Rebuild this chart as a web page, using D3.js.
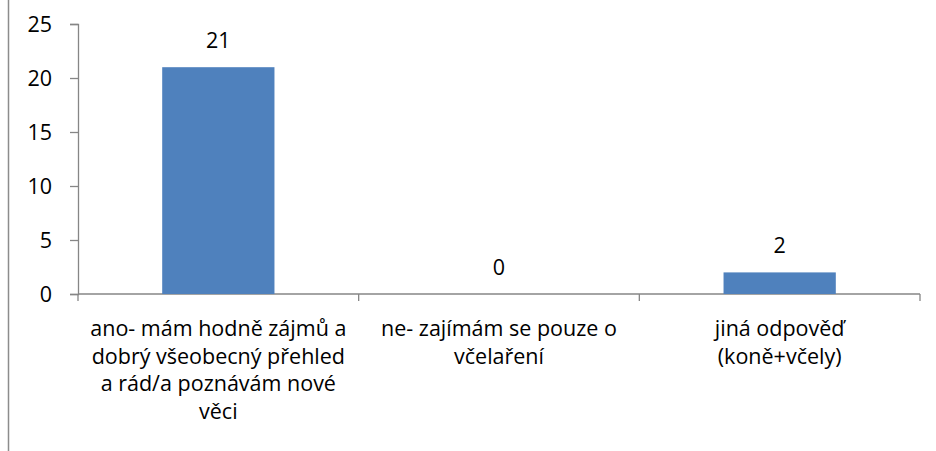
<!DOCTYPE html>
<html>
<head>
<meta charset="utf-8">
<script src="https://cdn.jsdelivr.net/npm/d3@7"></script>
<style>
  body { margin: 0; background: #fff; }
  text { font-family: "Open Sans", "Noto Sans", sans-serif; fill: #000; }
</style>
</head>
<body>
<svg width="936" height="451"></svg>
<script>
const categories = ["ano", "ne", "jina"];
const values = [21, 0, 2];
const catLines = [
    ["ano- mám hodně zájmů a", "dobrý všeobecný přehled", "a rád/a poznávám nové", "věci"],
    ["ne- zajímám se pouze o", "včelaření"],
    ["jiná odpověď", "(koně+včely)"]
];
const yTicks = [0, 5, 10, 15, 20, 25];

const svg = d3.select("svg");
const margin = {left: 78, right: 16, top: 24, bottom: 157};
const width = 936, height = 451;
const fontSize = "21.5px";

// left frame line
svg.append("line")
    .attr("x1", 8.5).attr("x2", 8.5)
    .attr("y1", 0).attr("y2", height)
    .attr("stroke", "#8c8c8c").attr("stroke-width", 1.5);

const x = d3.scaleBand()
    .domain(categories)
    .range([margin.left, width - margin.right])
    .paddingInner(0).paddingOuter(0);

const y = d3.scaleLinear()
    .domain([0, 25])
    .range([height - margin.bottom, margin.top]);

const axisColor = "#868686";

// y axis
const yAxis = svg.append("g")
    .attr("transform", `translate(${margin.left},0)`)
    .call(d3.axisLeft(y).tickValues(yTicks).tickSize(8).tickPadding(18));
yAxis.select(".domain").attr("stroke", axisColor).attr("stroke-width", 1.3);
yAxis.selectAll(".tick line").attr("stroke", axisColor).attr("stroke-width", 1.3);
yAxis.selectAll(".tick text")
    .style("font-size", fontSize)
    .attr("dy", "0.36em");

// x axis
const xAxisY = y(0);
svg.append("line")
    .attr("x1", margin.left).attr("x2", width - margin.right)
    .attr("y1", xAxisY).attr("y2", xAxisY)
    .attr("stroke", axisColor).attr("stroke-width", 1.3);
const bounds = categories.map(c => x(c)).concat([x(categories[categories.length - 1]) + x.bandwidth()]);
svg.append("g").selectAll("line")
    .data(bounds)
    .join("line")
    .attr("x1", d => d).attr("x2", d => d)
    .attr("y1", xAxisY).attr("y2", xAxisY + 7)
    .attr("stroke", axisColor).attr("stroke-width", 1.3);

// bars
const barW = x.bandwidth() * 0.4;
svg.append("g").selectAll("rect")
    .data(values)
    .join("rect")
    .attr("x", (d, i) => x(categories[i]) + (x.bandwidth() - barW) / 2)
    .attr("y", d => y(d))
    .attr("width", barW)
    .attr("height", d => y(0) - y(d))
    .attr("fill", "#4f81bd");

// value labels
svg.append("g").selectAll("text")
    .data(values)
    .join("text")
    .attr("x", (d, i) => x(categories[i]) + x.bandwidth() / 2)
    .attr("y", d => y(d) - 19)
    .attr("text-anchor", "middle")
    .style("font-size", fontSize)
    .text(d => d);

// category labels
categories.forEach((c, i) => {
    svg.append("text")
        .attr("text-anchor", "middle")
        .style("font-size", fontSize)
        .selectAll("tspan")
        .data(catLines[i])
        .join("tspan")
        .attr("x", x(c) + x.bandwidth() / 2)
        .attr("y", (d, j) => xAxisY + 42 + j * 27.5)
        .text(d => d);
});
</script>
</body>
</html>
